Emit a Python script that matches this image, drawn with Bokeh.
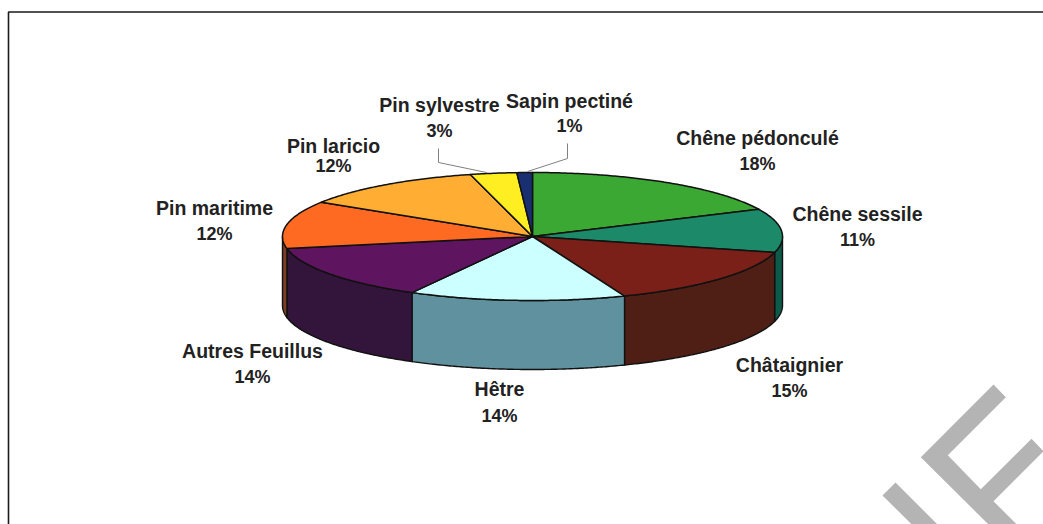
import numpy as np
from bokeh.plotting import figure
from bokeh.models import ColumnDataSource, Range1d
from bokeh.core.properties import value
from bokeh.embed import file_html
from bokeh.resources import INLINE

species = ["Chêne pédonculé", "Chêne sessile", "Châtaignier", "Hêtre", "Autres Feuillus",
           "Pin maritime", "Pin laricio", "Pin sylvestre", "Sapin pectiné"]
shares = [18, 11, 15, 14, 14, 12, 12, 3, 1]
top_colors = ["#3aa832", "#1c8a68", "#7a2018", "#ccffff", "#5e145e",
              "#ff6a22", "#ffae33", "#ffee22", "#1a2f72"]
side_colors = ["#2a7a25", "#0e5a48", "#4f1f15", "#5f919e", "#33143a",
               "#7e3b25", "#8a6020", "#8a8010", "#101c48"]

# layout (screen pixels; the ranges below map 1:1 onto the page)
CX, CY, RX, RY, DEPTH = 532, 236, 250, 64, 69
label_pos = [(757, 137, 163), (857, 213, 239), (789, 364, 390), (499, 388, 415), (252, 350, 376),
             (214, 207, 233), (333, 145, 165), (439, 104, 130), (569, 100, 125)]

W, H = 1043, 524
p = figure(width=W, height=H, output_backend="svg", toolbar_location=None,
           x_range=Range1d(0, W), y_range=Range1d(H, 0),
           min_border=0, outline_line_color=None, background_fill_color="white")
p.axis.visible = False
p.grid.visible = False


def arc(a0, a1, dy=0.0):
    t = np.radians(np.linspace(a0, a1, max(int(abs(a1 - a0)) * 2, 2) + 1))
    return CX + RX * np.sin(t), CY + dy - RY * np.cos(t)


edges = np.cumsum([0] + shares) * 3.6

# frame (runs off the right edge as in the scan)
p.line([8, 8, W], [H, 11.5, 11.5], line_color="#1a1a1a", line_width=1.6)

# watermark
p.patches([[920.3, 993, 1005.3, 947.3, 980.3, 1031, 1043, 993, 1016.3, 988],
           [895, 882, 911.3, 937]],
          [[456.7, 384, 396.7, 454.7, 488.7, 438.3, 450.7, 500.7, 524, 524],
           [482, 495, 524, 524]],
          fill_color="#b4b4b4", line_color=None)

# visible rim
sx, sy, sc = [], [], []
for a0, a1, c in zip(edges[:-1], edges[1:], side_colors):
    lo, hi = max(a0, 90), min(a1, 270)
    if hi <= lo:
        continue
    x0, y0 = arc(lo, hi)
    x1, y1 = arc(hi, lo, DEPTH)
    sx.append(np.r_[x0, x1]); sy.append(np.r_[y0, y1]); sc.append(c)
p.patches(sx, sy, fill_color=sc, line_color="#111111", line_width=1.4, line_join="round")

# top face
tx, ty = [], []
for a0, a1 in zip(edges[:-1], edges[1:]):
    x, y = arc(a0, a1)
    tx.append(np.r_[CX, x]); ty.append(np.r_[CY, y])
p.patches(tx, ty, fill_color=top_colors, line_color="#111111", line_width=1.5, line_join="round")

# leader lines for the two small slices
p.line([438, 438, 486], [148, 162, 172], line_color="#808080", line_width=1)
p.line([567, 567, 527], [143, 158, 171], line_color="#808080", line_width=1)

# labels
src = ColumnDataSource(dict(
    x=[q[0] for q in label_pos],
    y1=[q[1] for q in label_pos],
    y2=[q[2] for q in label_pos],
    name=species,
    pct=[f"{v}%" for v in shares],
))
for col, y, size in (("name", "y1", "19.5px"), ("pct", "y2", "18px")):
    p.text(x="x", y=y, text=col, source=src, text_align="center", text_baseline="middle",
           text_font=value("Liberation Sans"), text_font_style="bold",
           text_font_size=size, text_color="#222222")

open("out.html", "w").write(file_html(p, INLINE))
